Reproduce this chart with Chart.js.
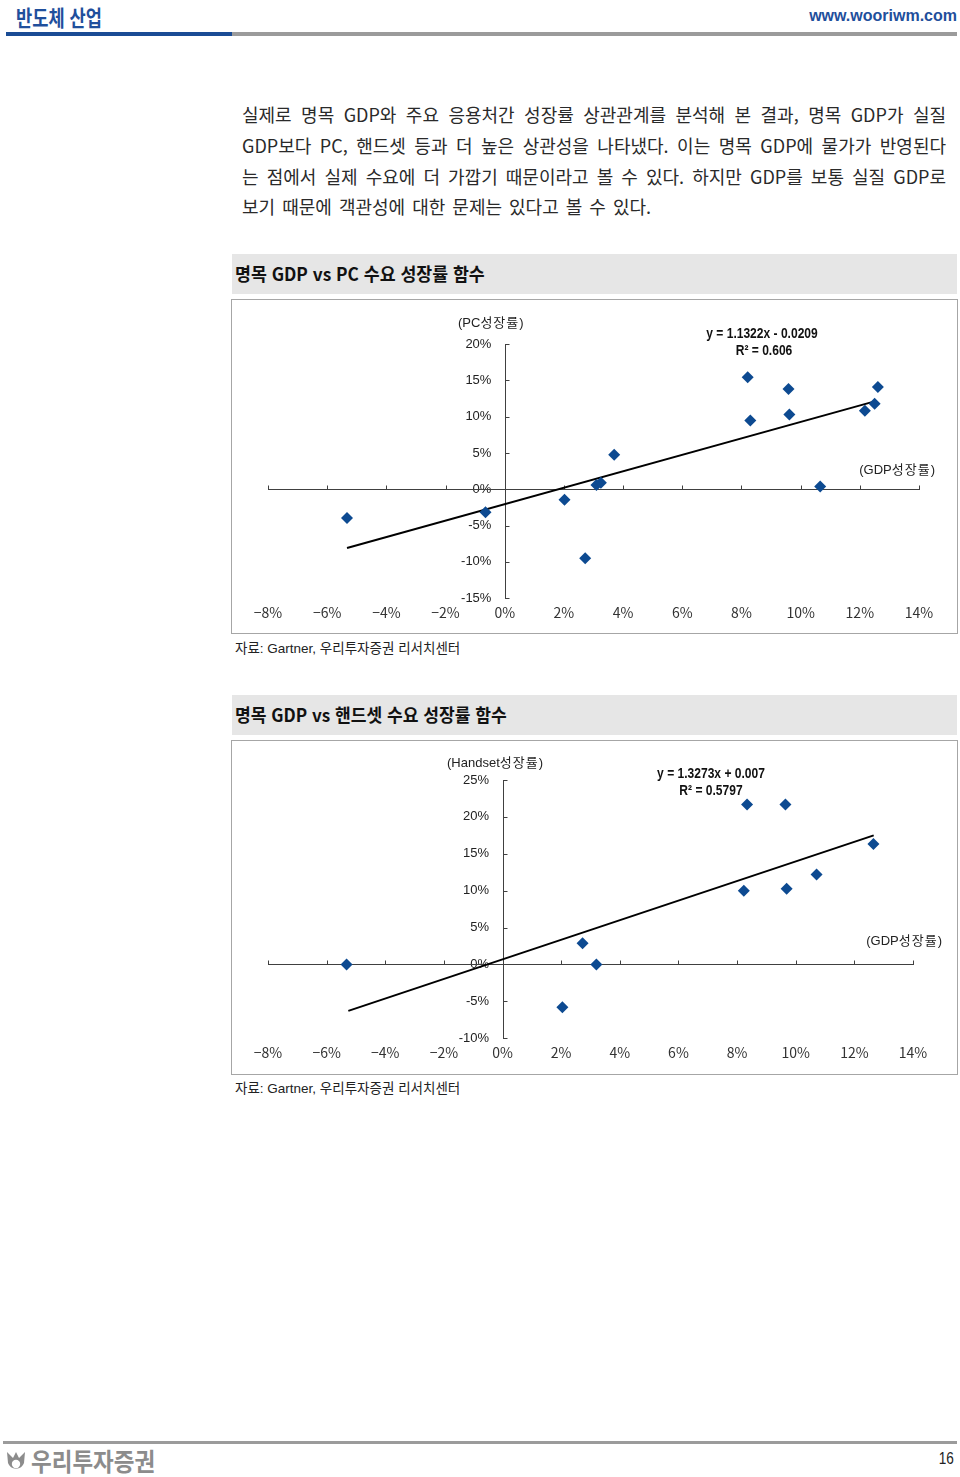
<!DOCTYPE html>
<html lang="ko">
<head>
<meta charset="utf-8">
<script src="https://cdn.jsdelivr.net/npm/chart.js@4.4.1/dist/chart.umd.min.js"></script>
<style>
  html,body{margin:0;padding:0;background:#fff;}
  #page{position:relative;width:960px;height:1477px;overflow:hidden;font-family:"Noto Sans CJK KR","Noto Sans",sans-serif;color:#222;}
  .abs{position:absolute;white-space:nowrap;}
  .para{position:absolute;left:242px;width:704px;font-size:18px;line-height:30px;height:30px;color:#2a2a2a;white-space:nowrap;text-align:justify;text-align-last:justify;}
  .band{position:absolute;left:232px;width:725px;height:40px;background:#e6e6e6;}
  .band span{position:absolute;left:3px;top:6px;font-size:18px;font-weight:bold;line-height:26px;color:#111;transform-origin:left center;}
  .frame{position:absolute;left:231px;width:725px;height:333px;border:1px solid #a6a6a6;}
  .frame canvas{position:absolute;left:0;top:0;}
  .src{position:absolute;left:235px;font-size:13.5px;line-height:18px;font-family:"Liberation Sans","Noto Sans CJK KR",sans-serif;color:#222;}
  .eq{position:absolute;font-family:"Liberation Sans",sans-serif;font-weight:bold;font-size:14px;line-height:16px;color:#111;transform:translateX(-50%) scaleX(0.86);transform-origin:center center;white-space:nowrap;}
  .atitle{position:absolute;font-family:"Liberation Sans","Noto Sans CJK KR",sans-serif;font-size:13px;line-height:16px;color:#222;white-space:nowrap;}
  .atitle .k{font-family:"Noto Sans CJK KR",sans-serif;letter-spacing:1px;}
</style>
</head>
<body>
<div id="page">
  <!-- header -->
  <div class="abs" style="left:16px;top:1px;font-size:22px;font-weight:bold;color:#1f4f9c;line-height:30px;transform:scaleX(0.8);transform-origin:left center;">반도체 산업</div>
  <div class="abs" style="right:3px;top:6px;font-family:'Liberation Sans',sans-serif;font-size:16px;font-weight:bold;color:#1f4f9c;line-height:20px;">www.wooriwm.com</div>
  <div class="abs" style="left:6px;top:32px;width:226px;height:4px;background:#1a4c95;"></div>
  <div class="abs" style="left:232px;top:32px;width:725px;height:4px;background:#9b9b9b;"></div>

  <!-- paragraph -->
  <div class="para" style="top:99px;">실제로 명목 GDP와 주요 응용처간 성장률 상관관계를 분석해 본 결과, 명목 GDP가 실질</div>
  <div class="para" style="top:130px;">GDP보다 PC, 핸드셋 등과 더 높은 상관성을 나타냈다. 이는 명목 GDP에 물가가 반영된다</div>
  <div class="para" style="top:161px;">는 점에서 실제 수요에 더 가깝기 때문이라고 볼 수 있다. 하지만 GDP를 보통 실질 GDP로</div>
  <div class="para" style="top:191px;text-align:left;text-align-last:left;width:auto;word-spacing:2px;">보기 때문에 객관성에 대한 문제는 있다고 볼 수 있다.</div>

  <!-- chart 1 -->
  <div class="band" style="top:254px;"><span style="transform:scaleX(0.96);">명목 GDP vs PC 수요 성장률 함수</span></div>
  <div class="frame" style="top:299px;"><canvas id="c1" width="725" height="333"></canvas></div>
  <div class="atitle" style="left:458px;top:314px;">(PC<span class="k">성장률</span>)</div>
  <div class="eq" style="left:762px;top:325px;">y = 1.1322x - 0.0209</div>
  <div class="eq" style="left:764px;top:342px;">R² = 0.606</div>
  <div class="atitle" style="right:25px;top:461px;">(GDP<span class="k">성장률</span>)</div>
  <div class="src" style="top:640px;">자료: Gartner, 우리투자증권 리서치센터</div>

  <!-- chart 2 -->
  <div class="band" style="top:695px;"><span style="transform:scaleX(0.95);">명목 GDP vs 핸드셋 수요 성장률 함수</span></div>
  <div class="frame" style="top:740px;"><canvas id="c2" width="725" height="333"></canvas></div>
  <div class="atitle" style="left:447px;top:754px;">(Handset<span class="k">성장률</span>)</div>
  <div class="eq" style="left:711px;top:765px;">y = 1.3273x + 0.007</div>
  <div class="eq" style="left:711px;top:782px;">R² = 0.5797</div>
  <div class="atitle" style="right:18px;top:932px;">(GDP<span class="k">성장률</span>)</div>
  <div class="src" style="top:1080px;">자료: Gartner, 우리투자증권 리서치센터</div>

  <!-- footer -->
  <div class="abs" style="left:3px;top:1441px;width:954px;height:3px;background:#9b9b9b;"></div>
  <svg class="abs" style="left:5px;top:1449px;" width="22" height="24" viewBox="0 0 22 24">
    <path d="M2 3 L8 9 L11 3 L14 9 L20 3 L19 14 A8.5 8.5 0 0 1 3 14 Z" fill="#8c8c8c"/>
    <circle cx="11" cy="15" r="4.2" fill="#fff"/>
  </svg>
  <div class="abs" style="left:31px;top:1445px;font-size:25px;font-weight:bold;color:#8c8c8c;line-height:30px;transform:scaleX(0.9);transform-origin:left center;">우리투자증권</div>
  <div class="abs" style="right:6px;top:1449px;font-family:'Liberation Sans',sans-serif;font-size:17px;color:#222;line-height:20px;transform:scaleX(0.8);transform-origin:right center;">16</div>
</div>

<script>
// ---- data (values in %) ----
const xTickValues = [-8, -6, -4, -2, 0, 2, 4, 6, 8, 10, 12, 14];

// Chart 1: nominal GDP growth vs PC demand growth
const pcGdp    = [-5.33, -0.65, 2.02, 2.72, 3.10, 3.25, 3.70, 8.21, 8.30, 9.59, 9.62, 10.66, 12.17, 12.50, 12.61];
const pcGrowth = [-3.96, -3.18, -1.43, -9.50, 0.60, 0.90, 4.76, 15.43, 9.47, 13.81, 10.30, 0.37, 10.80, 11.77, 14.09];
const pcTrendX = [-5.33, 12.50];
const pcTrendY = [-8.10, 12.10];
const pcYTicks = [-15, -10, -5, 0, 5, 10, 15, 20];

// Chart 2: nominal GDP growth vs handset demand growth
const hsGdp    = [-5.32, 2.04, 2.73, 3.20, 8.23, 8.34, 9.65, 9.69, 10.71, 12.65];
const hsGrowth = [0.00, -5.80, 2.86, 0.00, 9.99, 21.69, 21.69, 10.26, 12.20, 16.33];
const hsTrendX = [-5.26, 12.66];
const hsTrendY = [-6.30, 17.50];
const hsYTicks = [-10, -5, 0, 5, 10, 15, 20, 25];

const MARKER = '#0d4a91';

function pts(xs, ys){ return xs.map((v,i)=>({x:v, y:ys[i]})); }

const crossAxes = {
  id: 'crossAxes',
  beforeDatasetsDraw(chart){
    const {ctx, scales:{x, y}} = chart;
    const x0 = Math.round(x.getPixelForValue(0)) + 0.5;
    const y0 = Math.round(y.getPixelForValue(0)) + 0.5;
    ctx.save();
    ctx.strokeStyle = '#404040';
    ctx.lineWidth = 1;
    ctx.beginPath();
    ctx.moveTo(Math.round(x.getPixelForValue(x.min)), y0);
    ctx.lineTo(Math.round(x.getPixelForValue(x.max)) + 1, y0);
    x.ticks.forEach(t => {
      const px = Math.round(x.getPixelForValue(t.value)) + 0.5;
      ctx.moveTo(px, y0); ctx.lineTo(px, y0 - 4);
    });
    ctx.moveTo(x0, Math.round(y.getPixelForValue(y.max)));
    ctx.lineTo(x0, Math.round(y.getPixelForValue(y.min)) + 1);
    y.ticks.forEach(t => {
      const py = Math.round(y.getPixelForValue(t.value)) + 0.5;
      ctx.moveTo(x0, py); ctx.lineTo(x0 + 4, py);
    });
    ctx.stroke();
    ctx.restore();
  }
};

// labelGap: x-value offset so the y tick labels sit ~13px left of the y axis line
function makeChart(id, xs, ys, tx, ty, yTicks, pad, labelGap){
  const fmtX = v => (v < 0 ? '\u2212' + Math.abs(v) : String(v)) + '%';
  const fmtY = v => v + '%';
  return new Chart(document.getElementById(id), {
    type: 'scatter',
    data: {
      datasets: [
        { data: pts(xs, ys), pointStyle: 'rectRot', pointRadius: 6, pointHoverRadius: 6,
          backgroundColor: MARKER, borderColor: MARKER, borderWidth: 0, order: 0 },
        { type: 'line', data: pts(tx, ty), borderColor: '#000', borderWidth: 2, pointRadius: 0,
          fill: false, showLine: true, order: 1 }
      ]
    },
    options: {
      responsive: false, animation: false, devicePixelRatio: 1,
      layout: { padding: pad },
      plugins: { legend: { display: false }, tooltip: { enabled: false } },
      scales: {
        x: {
          type: 'linear', position: 'bottom', min: xTickValues[0], max: xTickValues[xTickValues.length-1],
          afterBuildTicks: a => { a.ticks = xTickValues.map(v => ({value: v})); },
          grid: { display: false, drawTicks: false }, border: { display: false },
          ticks: { callback: fmtX, padding: 6, autoSkip: false, maxRotation: 0, color: '#333',
                   font: { family: '"Noto Sans CJK KR", sans-serif', size: 14 } }
        },
        y: {
          type: 'linear', position: { x: -labelGap }, min: yTicks[0], max: yTicks[yTicks.length-1],
          afterBuildTicks: a => { a.ticks = yTicks.map(v => ({value: v})); },
          grid: { display: false, drawTicks: false }, border: { display: false },
          ticks: { callback: fmtY, padding: 0, autoSkip: false, color: '#222',
                   font: { family: '"Liberation Sans", Arial, sans-serif', size: 13 } }
        }
      }
    },
    plugins: [crossAxes]
  });
}

makeChart('c1', pcGdp, pcGrowth, pcTrendX, pcTrendY, pcYTicks, {left: 36, right: 38, top: 44, bottom: 6}, 0.45);
makeChart('c2', hsGdp, hsGrowth, hsTrendX, hsTrendY, hsYTicks, {left: 36, right: 44, top: 39, bottom: 7}, 0.46);
</script>
</body>
</html>
